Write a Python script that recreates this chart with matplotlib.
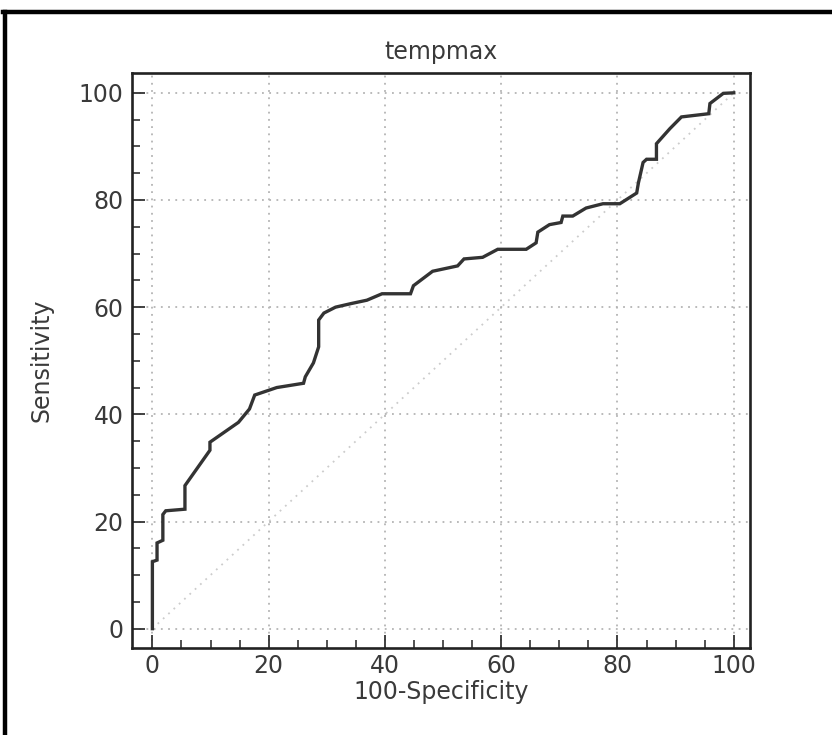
import numpy as np
import matplotlib.pyplot as plt
from matplotlib.lines import Line2D
from matplotlib.ticker import MultipleLocator

plt.rcParams['font.family'] = ['DejaVu Sans']

# ROC curve (100-specificity, sensitivity)
fpr = [0, 0, 0.8, 0.8, 1.8, 1.8, 2.3, 5.6, 5.6, 9.9, 9.9, 14.8, 16.7, 17.6,
       21.4, 26.0, 26.3, 27.7, 28.6, 28.6, 29.5, 31.5, 34.3, 36.9, 39.5,
       44.4, 44.9, 48.2, 52.5, 53.6, 56.8, 59.4, 64.3, 66.0, 66.3, 68.3,
       70.3, 70.6, 72.3, 74.6, 77.5, 80.4, 83.3, 83.6, 84.4, 85.0, 86.7,
       86.7, 89.0, 91.0, 95.7, 95.9, 98.2, 100]
tpr = [0, 12.5, 12.8, 16.0, 16.5, 21.3, 22.0, 22.3, 26.7, 33.3, 34.8, 38.5,
       41.0, 43.6, 45.0, 45.8, 47.0, 49.6, 52.6, 57.6, 58.9, 60.0, 60.7,
       61.3, 62.5, 62.5, 64.0, 66.7, 67.7, 69.0, 69.3, 70.8, 70.8, 72.0,
       74.0, 75.4, 75.8, 77.0, 77.0, 78.5, 79.3, 79.3, 81.3, 83.2, 87.0,
       87.6, 87.6, 90.5, 93.3, 95.5, 96.1, 98.0, 99.9, 100]
diag = [0, 100]

txt = '#3a3a3a'

fig = plt.figure(figsize=(8.32, 7.35), dpi=100)
ax = fig.add_axes([0.1587, 0.1184, 0.7428, 0.7823])

ax.plot(diag, diag, color='#cccccc', lw=1.3, ls=(0, (1, 3)), zorder=1)
ax.plot(fpr, tpr, color='#333333', lw=2.4, zorder=3, solid_joinstyle='miter')

ax.set_xlim(-3.5, 102.8)
ax.set_ylim(-3.6, 103.7)

ax.xaxis.set_major_locator(MultipleLocator(20))
ax.xaxis.set_minor_locator(MultipleLocator(5))
ax.yaxis.set_major_locator(MultipleLocator(20))
ax.yaxis.set_minor_locator(MultipleLocator(5))

ax.grid(True, which='major', color='#b4b4b4', lw=1.3, ls=(0, (1, 3)))
ax.tick_params(which='major', direction='in', length=9.5, width=1.3,
               color='#333333', labelsize=17, labelcolor=txt, pad=6)
ax.tick_params(axis='x', which='major', pad=4)
ax.tick_params(which='minor', direction='in', length=6, width=1.2,
               color='#333333')
ax.tick_params(top=False, right=False, which='both')

for s in ax.spines.values():
    s.set_linewidth(1.9)
    s.set_color('#222222')

ax.set_title('tempmax', fontsize=17, color=txt, pad=10)
ax.set_xlabel('100-Specificity', fontsize=17, color=txt, labelpad=2)
ax.set_ylabel('Sensitivity', fontsize=17, color=txt, labelpad=18)

# black frame of the original screenshot (top and left edges)
fig.add_artist(Line2D([0.004, 1.0], [0.9837, 0.9837], color='black', lw=3.2,
                      transform=fig.transFigure))
fig.add_artist(Line2D([0.006, 0.006], [0.0, 0.9837], color='black', lw=3.2,
                      transform=fig.transFigure))

fig.savefig('out.png', dpi=100)
